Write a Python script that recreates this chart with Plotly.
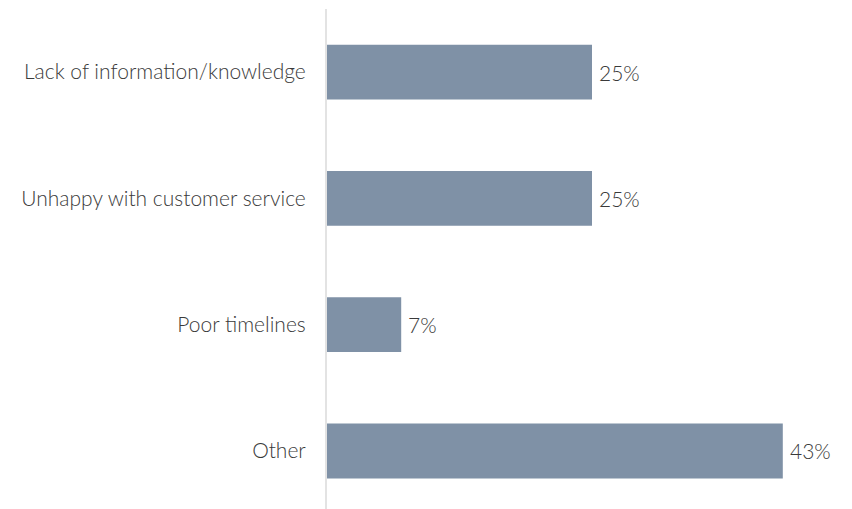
import plotly.graph_objects as go

categories = ["Lack of information/knowledge", "Unhappy with customer service", "Poor timelines", "Other"]
values = [25, 25, 7, 43]
value_labels = ["25%", "25%", "7%", "43%"]

BAR_COLOR = "#7f91a6"
TEXT_COLOR = "#3a3a3a"
FONT = "Lato"
FONT_SIZE = 21

fig = go.Figure(
    go.Bar(
        x=values,
        y=categories,
        orientation="h",
        marker=dict(color=BAR_COLOR, line=dict(width=0)),
        width=0.435,
        hoverinfo="skip",
    )
)

# value labels just past the end of each bar
for cat, val, lab in zip(categories, values, value_labels):
    fig.add_annotation(
        x=val,
        y=cat,
        text=lab,
        showarrow=False,
        xanchor="left",
        xshift=5,
        font=dict(family=FONT, size=FONT_SIZE, color=TEXT_COLOR, weight=300),
    )

fig.update_layout(
    width=852,
    height=509,
    margin=dict(l=327, r=48, t=9, b=0),
    paper_bgcolor="white",
    plot_bgcolor="white",
    showlegend=False,
    font=dict(family=FONT, color=TEXT_COLOR, size=FONT_SIZE, weight=300),
)

fig.update_xaxes(
    range=[0, 45],
    visible=False,
    showgrid=False,
    zeroline=False,
)

fig.update_yaxes(
    categoryorder="array",
    categoryarray=categories,
    range=[3.46, -0.5],
    showgrid=False,
    zeroline=False,
    showline=True,
    linecolor="#e3e3e3",
    linewidth=2,
    ticks="",
    ticklabelstandoff=15,
    tickfont=dict(family=FONT, size=FONT_SIZE, color=TEXT_COLOR, weight=300),
)

fig.write_html("out.html")
